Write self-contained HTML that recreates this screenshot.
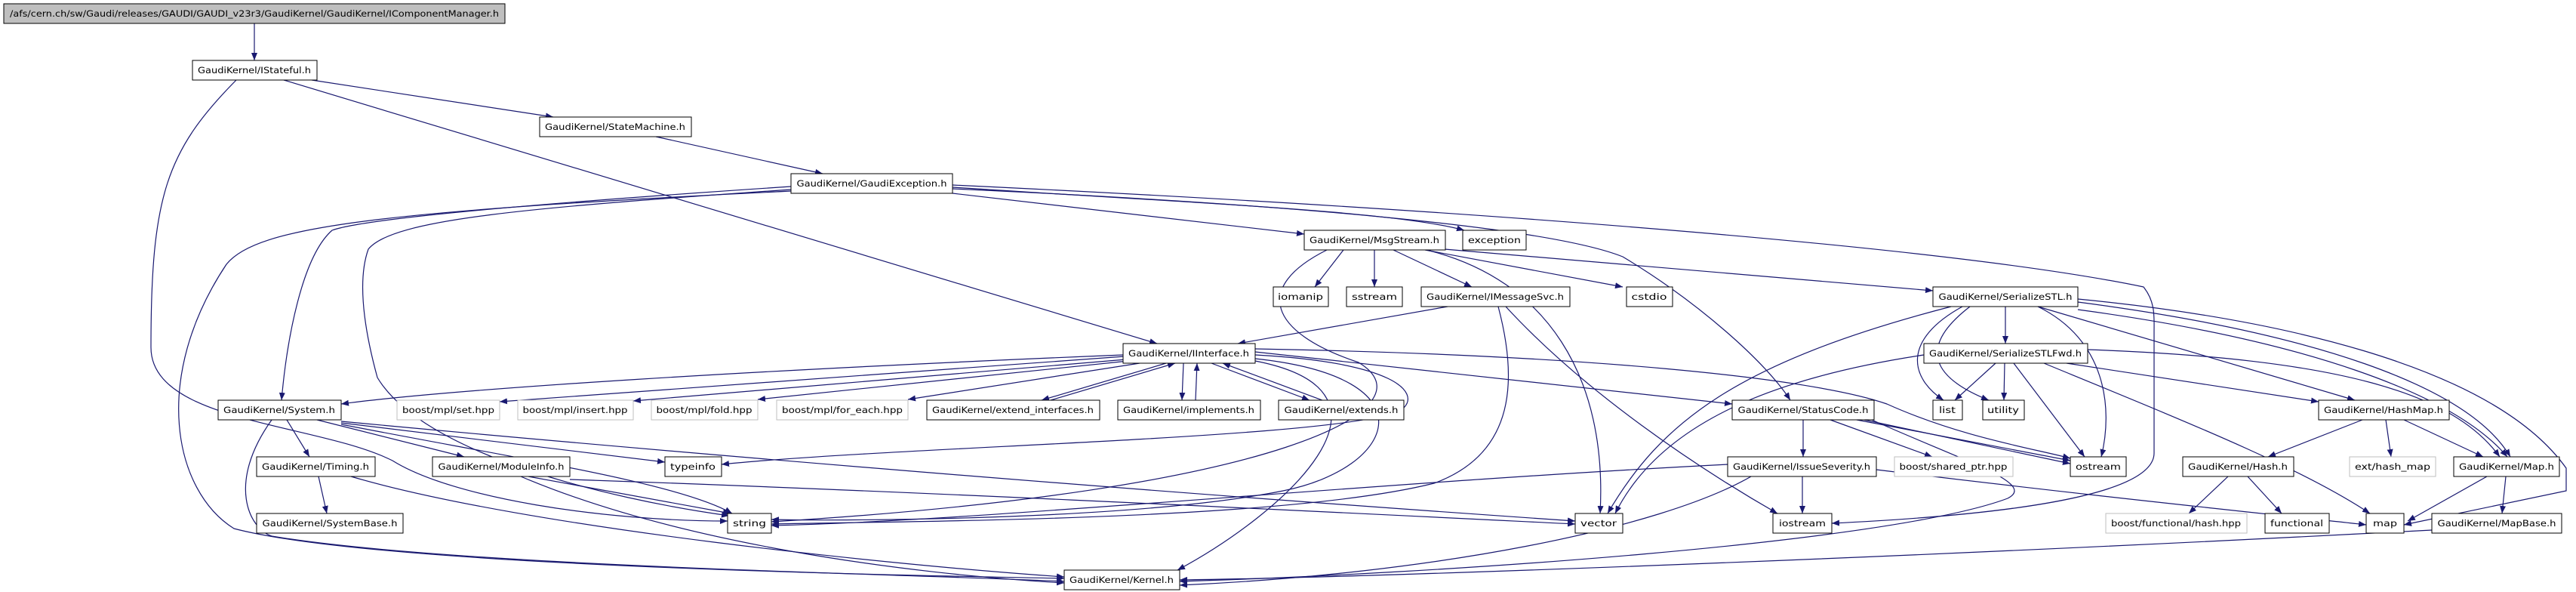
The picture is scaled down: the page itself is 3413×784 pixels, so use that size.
<!DOCTYPE html>
<html><head><meta charset="utf-8"><style>
html,body{margin:0;padding:0;background:#fff;}
svg{display:block;}
text{font-family:"DejaVu Sans","Liberation Sans",sans-serif;font-size:11.5px;fill:#000;}
.e{fill:none;stroke:#191970;stroke-width:1.2;marker-end:url(#a);}
.n{fill:#fff;stroke:#000;stroke-width:1;}
.g{fill:#fff;stroke:#bfbfbf;stroke-width:1;}
</style></head><body>
<svg width="3413" height="784" viewBox="0 0 3413 784" xmlns="http://www.w3.org/2000/svg">
<defs><marker id="a" markerUnits="userSpaceOnUse" markerWidth="11" markerHeight="8" refX="10" refY="4" orient="auto"><path d="M0,0 L10,4 L0,8 z" fill="#191970"/></marker></defs>
<g>
<path class="e" d="M337 31 L337 80"/>
<path class="e" d="M413 106 L733 155"/>
<path class="e" d="M376 106 L1533 455"/>
<path class="e" d="M313 106 C220 200,200 260,200 460 C200 560,420 560,520 610 C600 660,800 690,964 690"/>
<path class="e" d="M869 181 L1090 230"/>
<path class="e" d="M1262 256 L1728 310"/>
<path class="e" d="M1262 248 C1600 270,1850 280,1940 305"/>
<path class="e" d="M1262 250 C1700 270,2050 300,2150 340 C2250 400,2340 480,2372 530"/>
<path class="e" d="M1262 245 C2000 280,2600 330,2840 380 C2856 400,2854 420,2854 440 L2854 600 C2854 650,2700 680,2427 693"/>
<path class="e" d="M1048 247 C700 270,480 290,440 305 C400 340,380 450,373 530"/>
<path class="e" d="M1048 251 C700 275,520 290,488 330 C470 380,489 460,500 500 C560 600,800 660,966 683"/>
<path class="e" d="M1048 253 C500 280,340 300,300 350 C200 500,230 650,310 700 C500 750,1200 762,1410 766"/>
<path class="e" d="M1780 331 L1742 380"/>
<path class="e" d="M1821 331 L1821 380"/>
<path class="e" d="M1846 331 L1950 380"/>
<path class="e" d="M1888 331 L2150 380"/>
<path class="e" d="M1914 330 L2561 385"/>
<path class="e" d="M1890 331 C2050 370,2130 500,2120 680"/>
<path class="e" d="M1758 331 C1660 380,1680 440,1800 480 C1900 540,1700 650,1022 691"/>
<path class="e" d="M1918 406 L1640 455"/>
<path class="e" d="M1985 406 C2010 500,2010 600,1900 640 C1700 690,1200 690,1022 694"/>
<path class="e" d="M1995 406 C2100 520,2250 620,2355 680"/>
<path class="e" d="M1488 470 C1000 490,600 515,452 535"/>
<path class="e" d="M1490 472 L662 532"/>
<path class="e" d="M1492 476 L839 531"/>
<path class="e" d="M1495 478 L1004 529"/>
<path class="e" d="M1510 481 L1203 529"/>
<path class="e" d="M1545 481 L1380 530"/>
<path class="e" d="M1392 530 L1557 481"/>
<path class="e" d="M1568 481 L1566 530"/>
<path class="e" d="M1584 530 L1586 481"/>
<path class="e" d="M1605 481 L1735 530"/>
<path class="e" d="M1752 530 L1620 481"/>
<path class="e" d="M1663 466 L2295 535"/>
<path class="e" d="M1663 462 C2100 470,2400 500,2500 535 C2600 580,2700 595,2743 607"/>
<path class="e" d="M1663 470 C1850 480,1880 520,1860 540 C1820 580,1200 590,956 615"/>
<path class="e" d="M1663 475 C1900 500,1850 620,1700 650 C1500 690,1100 690,1022 688"/>
<path class="e" d="M1663 478 C1880 520,1700 680,1560 755"/>
<path class="e" d="M422 631 L433 680"/>
<path class="e" d="M465 631 C700 700,1200 750,1410 764"/>
<path class="e" d="M380 556 L410 605"/>
<path class="e" d="M420 556 L615 605"/>
<path class="e" d="M452 560 L881 612"/>
<path class="e" d="M452 562 C700 610,900 640,970 680"/>
<path class="e" d="M452 558 C900 600,1500 650,2087 690"/>
<path class="e" d="M360 556 C300 640,330 700,360 710 C600 750,1200 760,1410 770"/>
<path class="e" d="M700 631 L968 680"/>
<path class="e" d="M755 635 C1200 650,1800 680,2087 694"/>
<path class="e" d="M690 631 C900 720,1200 760,1410 772"/>
<path class="e" d="M2657 406 L2657 455"/>
<path class="e" d="M2600 406 C2520 450,2530 500,2575 530"/>
<path class="e" d="M2610 406 C2540 460,2560 500,2635 530"/>
<path class="e" d="M2700 406 C2790 450,2800 540,2784 605"/>
<path class="e" d="M2585 406 C2300 480,2200 560,2130 680"/>
<path class="e" d="M2700 406 L3120 530"/>
<path class="e" d="M2753 410 C3050 450,3250 520,3322 605"/>
<path class="e" d="M2753 400 C3060 440,3270 510,3326 605"/>
<path class="e" d="M2753 396 C3000 420,3300 480,3400 620 L3400 650 L3185 695"/>
<path class="e" d="M2644 481 L2590 530"/>
<path class="e" d="M2656 481 L2655 530"/>
<path class="e" d="M2668 481 L2762 605"/>
<path class="e" d="M2549 470 C2350 500,2200 560,2140 680"/>
<path class="e" d="M2708 481 C2900 560,3050 620,3140 680"/>
<path class="e" d="M2738 481 L3072 532"/>
<path class="e" d="M2766 463 C3100 475,3250 520,3312 605"/>
<path class="e" d="M2389 556 L2389 605"/>
<path class="e" d="M2425 556 L2560 605"/>
<path class="e" d="M2460 556 L2743 610"/>
<path class="e" d="M2470 556 L2743 614"/>
<path class="e" d="M2480 556 C2600 610,2700 640,2660 660 C2500 720,1900 760,1563 770"/>
<path class="e" d="M2289 615 C1800 640,1300 690,1022 696"/>
<path class="e" d="M2388 631 L2388 680"/>
<path class="e" d="M2486 622 C2800 660,3000 680,3135 695"/>
<path class="e" d="M2320 631 C2200 700,1900 760,1563 775"/>
<path class="e" d="M3130 556 L3005 605"/>
<path class="e" d="M3161 556 L3168 605"/>
<path class="e" d="M3185 556 L3290 605"/>
<path class="e" d="M2952 631 L2900 680"/>
<path class="e" d="M2978 631 L3023 680"/>
<path class="e" d="M3295 631 L3190 690"/>
<path class="e" d="M3320 631 L3315 680"/>
<path class="e" d="M3222 702 C2500 740,1800 765,1563 768"/>
</g>
<g>
<rect x="5" y="5" width="664" height="26" fill="#bfbfbf" stroke="#000"/><text x="337" y="22" text-anchor="middle" textLength="648" lengthAdjust="spacingAndGlyphs">/afs/cern.ch/sw/Gaudi/releases/GAUDI/GAUDI_v23r3/GaudiKernel/GaudiKernel/IComponentManager.h</text>
<rect class="n" x="255" y="80" width="165" height="26"/><text x="337" y="97" text-anchor="middle" textLength="150" lengthAdjust="spacingAndGlyphs">GaudiKernel/IStateful.h</text>
<rect class="n" x="715" y="155" width="201" height="26"/><text x="815" y="172" text-anchor="middle" textLength="186" lengthAdjust="spacingAndGlyphs">GaudiKernel/StateMachine.h</text>
<rect class="n" x="1048" y="230" width="214" height="26"/><text x="1155" y="247" text-anchor="middle" textLength="199" lengthAdjust="spacingAndGlyphs">GaudiKernel/GaudiException.h</text>
<rect class="n" x="1728" y="305" width="187" height="26"/><text x="1821" y="322" text-anchor="middle" textLength="172" lengthAdjust="spacingAndGlyphs">GaudiKernel/MsgStream.h</text>
<rect class="n" x="1938" y="305" width="84" height="26"/><text x="1980" y="322" text-anchor="middle" textLength="70" lengthAdjust="spacingAndGlyphs">exception</text>
<rect class="n" x="1687" y="380" width="73" height="26"/><text x="1723" y="397" text-anchor="middle" textLength="60" lengthAdjust="spacingAndGlyphs">iomanip</text>
<rect class="n" x="1784" y="380" width="74" height="26"/><text x="1821" y="397" text-anchor="middle" textLength="60" lengthAdjust="spacingAndGlyphs">sstream</text>
<rect class="n" x="1883" y="380" width="197" height="26"/><text x="1981" y="397" text-anchor="middle" textLength="182" lengthAdjust="spacingAndGlyphs">GaudiKernel/IMessageSvc.h</text>
<rect class="n" x="2155" y="380" width="61" height="26"/><text x="2185" y="397" text-anchor="middle" textLength="47" lengthAdjust="spacingAndGlyphs">cstdio</text>
<rect class="n" x="2561" y="380" width="192" height="26"/><text x="2657" y="397" text-anchor="middle" textLength="177" lengthAdjust="spacingAndGlyphs">GaudiKernel/SerializeSTL.h</text>
<rect class="n" x="1488" y="455" width="175" height="26"/><text x="1575" y="472" text-anchor="middle" textLength="160" lengthAdjust="spacingAndGlyphs">GaudiKernel/IInterface.h</text>
<rect class="n" x="2549" y="455" width="217" height="26"/><text x="2657" y="472" text-anchor="middle" textLength="202" lengthAdjust="spacingAndGlyphs">GaudiKernel/SerializeSTLFwd.h</text>
<rect class="n" x="289" y="530" width="163" height="26"/><text x="370" y="547" text-anchor="middle" textLength="148" lengthAdjust="spacingAndGlyphs">GaudiKernel/System.h</text>
<rect class="g" x="526" y="530" width="136" height="26"/><text x="594" y="547" text-anchor="middle" textLength="122" lengthAdjust="spacingAndGlyphs">boost/mpl/set.hpp</text>
<rect class="g" x="686" y="530" width="153" height="26"/><text x="762" y="547" text-anchor="middle" textLength="139" lengthAdjust="spacingAndGlyphs">boost/mpl/insert.hpp</text>
<rect class="g" x="863" y="530" width="141" height="26"/><text x="933" y="547" text-anchor="middle" textLength="127" lengthAdjust="spacingAndGlyphs">boost/mpl/fold.hpp</text>
<rect class="g" x="1029" y="530" width="174" height="26"/><text x="1116" y="547" text-anchor="middle" textLength="160" lengthAdjust="spacingAndGlyphs">boost/mpl/for_each.hpp</text>
<rect class="n" x="1228" y="530" width="229" height="26"/><text x="1342" y="547" text-anchor="middle" textLength="214" lengthAdjust="spacingAndGlyphs">GaudiKernel/extend_interfaces.h</text>
<rect class="n" x="1481" y="530" width="189" height="26"/><text x="1575" y="547" text-anchor="middle" textLength="174" lengthAdjust="spacingAndGlyphs">GaudiKernel/implements.h</text>
<rect class="n" x="1694" y="530" width="166" height="26"/><text x="1777" y="547" text-anchor="middle" textLength="151" lengthAdjust="spacingAndGlyphs">GaudiKernel/extends.h</text>
<rect class="n" x="2295" y="530" width="188" height="26"/><text x="2389" y="547" text-anchor="middle" textLength="173" lengthAdjust="spacingAndGlyphs">GaudiKernel/StatusCode.h</text>
<rect class="n" x="2561" y="530" width="39" height="26"/><text x="2580" y="547" text-anchor="middle" textLength="22" lengthAdjust="spacingAndGlyphs">list</text>
<rect class="n" x="2627" y="530" width="55" height="26"/><text x="2654" y="547" text-anchor="middle" textLength="42" lengthAdjust="spacingAndGlyphs">utility</text>
<rect class="n" x="3072" y="530" width="173" height="26"/><text x="3158" y="547" text-anchor="middle" textLength="158" lengthAdjust="spacingAndGlyphs">GaudiKernel/HashMap.h</text>
<rect class="n" x="340" y="605" width="157" height="26"/><text x="418" y="622" text-anchor="middle" textLength="142" lengthAdjust="spacingAndGlyphs">GaudiKernel/Timing.h</text>
<rect class="n" x="573" y="605" width="182" height="26"/><text x="664" y="622" text-anchor="middle" textLength="167" lengthAdjust="spacingAndGlyphs">GaudiKernel/ModuleInfo.h</text>
<rect class="n" x="881" y="605" width="75" height="26"/><text x="918" y="622" text-anchor="middle" textLength="60" lengthAdjust="spacingAndGlyphs">typeinfo</text>
<rect class="n" x="2289" y="605" width="197" height="26"/><text x="2387" y="622" text-anchor="middle" textLength="182" lengthAdjust="spacingAndGlyphs">GaudiKernel/IssueSeverity.h</text>
<rect class="g" x="2510" y="605" width="157" height="26"/><text x="2588" y="622" text-anchor="middle" textLength="143" lengthAdjust="spacingAndGlyphs">boost/shared_ptr.hpp</text>
<rect class="n" x="2743" y="605" width="74" height="26"/><text x="2780" y="622" text-anchor="middle" textLength="60" lengthAdjust="spacingAndGlyphs">ostream</text>
<rect class="n" x="2892" y="605" width="147" height="26"/><text x="2965" y="622" text-anchor="middle" textLength="132" lengthAdjust="spacingAndGlyphs">GaudiKernel/Hash.h</text>
<rect class="g" x="3113" y="605" width="114" height="26"/><text x="3170" y="622" text-anchor="middle" textLength="100" lengthAdjust="spacingAndGlyphs">ext/hash_map</text>
<rect class="n" x="3251" y="605" width="140" height="26"/><text x="3321" y="622" text-anchor="middle" textLength="126" lengthAdjust="spacingAndGlyphs">GaudiKernel/Map.h</text>
<rect class="n" x="340" y="680" width="194" height="26"/><text x="437" y="697" text-anchor="middle" textLength="179" lengthAdjust="spacingAndGlyphs">GaudiKernel/SystemBase.h</text>
<rect class="n" x="964" y="680" width="58" height="26"/><text x="993" y="697" text-anchor="middle" textLength="44" lengthAdjust="spacingAndGlyphs">string</text>
<rect class="n" x="2087" y="680" width="63" height="26"/><text x="2118" y="697" text-anchor="middle" textLength="48" lengthAdjust="spacingAndGlyphs">vector</text>
<rect class="n" x="2349" y="680" width="78" height="26"/><text x="2388" y="697" text-anchor="middle" textLength="62" lengthAdjust="spacingAndGlyphs">iostream</text>
<rect class="g" x="2790" y="680" width="187" height="26"/><text x="2883" y="697" text-anchor="middle" textLength="172" lengthAdjust="spacingAndGlyphs">boost/functional/hash.hpp</text>
<rect class="n" x="3001" y="680" width="85" height="26"/><text x="3043" y="697" text-anchor="middle" textLength="70" lengthAdjust="spacingAndGlyphs">functional</text>
<rect class="n" x="3135" y="680" width="50" height="26"/><text x="3160" y="697" text-anchor="middle" textLength="32" lengthAdjust="spacingAndGlyphs">map</text>
<rect class="n" x="3222" y="680" width="172" height="26"/><text x="3308" y="697" text-anchor="middle" textLength="157" lengthAdjust="spacingAndGlyphs">GaudiKernel/MapBase.h</text>
<rect class="n" x="1410" y="755" width="153" height="26"/><text x="1486" y="772" text-anchor="middle" textLength="138" lengthAdjust="spacingAndGlyphs">GaudiKernel/Kernel.h</text>
</g>
</svg>
</body></html>
